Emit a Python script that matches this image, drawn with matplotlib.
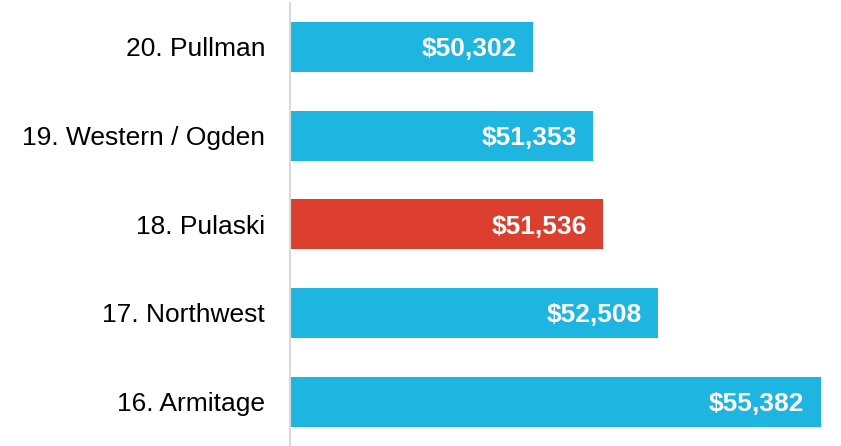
import matplotlib
matplotlib.use("Agg")
import matplotlib.pyplot as plt

# Daten
regions = ["20. Pullman", "19. Western / Ogden", "18. Pulaski", "17. Northwest", "16. Armitage"]
incomes = [50302, 51353, 51536, 52508, 55382]
highlight = "18. Pulaski"

plt.rcParams["font.family"] = ["Liberation Sans", "DejaVu Sans"]

W, H = 841, 446
fig = plt.figure(figsize=(W / 100, H / 100), dpi=100)

# Achse: linker Rand bei 290 px, oben bei ~3 px
left_px, top_px = 290, 2.6
ax = fig.add_axes([left_px / W, 0, (W - left_px) / W, (H - top_px) / H])

x0 = 46000
px_per_dollar = 0.05655
ax.set_xlim(x0, x0 + (W - left_px) / px_per_dollar)
ax.set_ylim(len(regions) - 0.5, -0.5)

colors = ["#DC3F2E" if r == highlight else "#1EB5E1" for r in regions]
ax.barh(range(len(regions)), [v - x0 for v in incomes], left=x0, height=0.565, color=colors)

for i, v in enumerate(incomes):
    ax.text(v - 16 / px_per_dollar, i, f"${v:,}", ha="right", va="center_baseline",
            color="white", fontsize=19, fontweight="bold")

ax.set_yticks(range(len(regions)))
ax.set_yticklabels(regions, fontsize=19)
ax.tick_params(axis="y", length=0, pad=18)
ax.set_xticks([])

for s in ["top", "right", "bottom"]:
    ax.spines[s].set_visible(False)
ax.spines["left"].set_color("#D9D9D9")
ax.spines["left"].set_linewidth(1.5)

fig.savefig("out.png", dpi=100)
